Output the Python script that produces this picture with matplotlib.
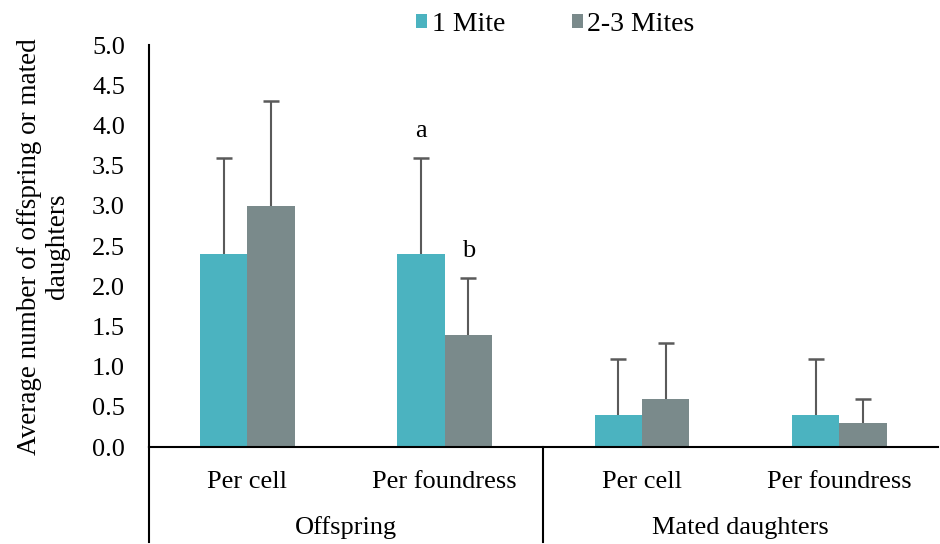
import numpy as np
import matplotlib.pyplot as plt

categories = ['Per cell', 'Per foundress', 'Per cell', 'Per foundress']
groups = ['Offspring', 'Mated daughters']
one_mite = [2.4, 2.4, 0.4, 0.4]
one_mite_err = [1.2, 1.2, 0.7, 0.7]
multi_mite = [3.0, 1.4, 0.6, 0.3]
multi_mite_err = [1.3, 0.7, 0.7, 0.3]
letters = ['', 'a', '', '']
letters_multi = ['', 'b', '', '']

plt.rcParams['font.family'] = ['Liberation Serif', 'DejaVu Serif']
fs = 19

fig = plt.figure(figsize=(9.4, 5.44), dpi=100)
ax = fig.add_axes([0.158, 0.178, 0.84, 0.739])

x = np.arange(len(categories))
w = 0.24
teal = '#4bb3c0'
grey = '#7a8a8b'
errc = '#5a5a5a'


def upper_err(xpos, vals, errs):
    # only the upper half of the error bar, like the original
    tops = np.array(vals) + np.array(errs)
    ax.vlines(xpos, vals, tops, color=errc, lw=1.5, zorder=3)
    ax.plot(xpos, tops, ls='none', marker='_', ms=11, mew=1.8, color=errc, zorder=3)


ax.bar(x - w / 2, one_mite, w, color=teal, label='1 Mite')
ax.bar(x + w / 2, multi_mite, w, color=grey, label='2-3 Mites')
upper_err(x - w / 2, one_mite, one_mite_err)
upper_err(x + w / 2, multi_mite, multi_mite_err)

# significance letters
for i in range(len(categories)):
    if letters[i]:
        ax.text(x[i] - w / 2, one_mite[i] + one_mite_err[i] + 0.2, letters[i],
                ha='center', va='bottom', fontsize=fs)
    if letters_multi[i]:
        ax.text(x[i] + w / 2, multi_mite[i] + multi_mite_err[i] + 0.2, letters_multi[i],
                ha='center', va='bottom', fontsize=fs)

ax.set_xlim(-0.5, 3.5)
ax.set_ylim(0, 5)
ax.set_yticks(np.arange(0, 5.01, 0.5))
ax.set_yticklabels(['%.1f' % v for v in np.arange(0, 5.01, 0.5)], fontsize=fs)
ax.set_xticks(x)
ax.set_xticklabels(categories, fontsize=fs)
ax.tick_params(axis='both', length=0)
ax.tick_params(axis='x', pad=17)
ax.tick_params(axis='y', pad=17)

for s in ['top', 'right']:
    ax.spines[s].set_visible(False)
ax.spines['left'].set_linewidth(1.5)
ax.spines['bottom'].set_linewidth(1.5)

ax.set_ylabel('Average number of offspring or mated\ndaughters', fontsize=19.5,
              labelpad=16, linespacing=1.15)

# group separators and labels below the axis
tr = ax.get_xaxis_transform()
for xs in [-0.5, 1.5]:
    ax.plot([xs, xs], [0, -0.235], transform=tr, color='black', lw=1.5, clip_on=False)
ax.text(0.5, -0.2, groups[0], transform=tr, ha='center', va='center', fontsize=fs)
ax.text(2.5, -0.2, groups[1], transform=tr, ha='center', va='center', fontsize=fs)

ax.legend(loc='upper center', bbox_to_anchor=(0.515, 1.145), ncol=2, frameon=False,
          fontsize=20, handlelength=0.4, handleheight=0.4, columnspacing=2.4, handletextpad=0.15)

plt.savefig('out.png', dpi=100)
